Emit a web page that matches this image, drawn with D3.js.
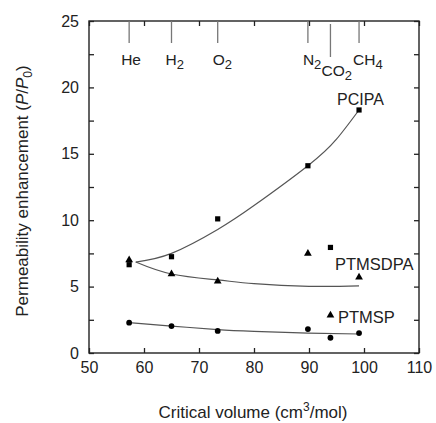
<!DOCTYPE html>
<html><head><meta charset="utf-8">
<script src="https://cdn.jsdelivr.net/npm/d3@7"></script>
<style>body{margin:0;background:#fff}svg{display:block}text{font-family:"Liberation Sans",Arial,sans-serif;fill:#222}</style>
</head><body><svg id="c" width="436" height="423"></svg>
<script>
// ---- data ----
const gases = ["He","H2","O2","N2","CO2","CH4"];
const criticalVolume = [57.3, 65.0, 73.4, 89.8, 93.9, 99.1];
const pcipa   = [6.65, 7.25, 10.1, 14.1, 7.95, 18.3];
const ptmsdpa = [7.0, 5.95, 5.4, 7.5, 2.85, 5.7];
const ptmsp   = [2.28, 2.03, 1.66, 1.8, 1.15, 1.5];
// fitted trend lines
const fitPcipaX   = [58.5, 65, 73.4, 80, 89.8, 95, 99.1];
const fitPcipaY   = [6.85, 7.5, 9.3, 11.1, 14.1, 16.1, 18.3];
const fitPtmsdpaX = [58.5, 65, 73.4, 80, 90, 99.1];
const fitPtmsdpaY = [6.85, 5.95, 5.5, 5.22, 5.02, 5.05];
const fitPtmspX   = [57.3, 65, 73.4, 80, 89.8, 99.1];
const fitPtmspY   = [2.28, 2.03, 1.76, 1.63, 1.5, 1.43];
const xTicks = [50, 60, 70, 80, 90, 100, 110];
const yTicks = [0, 5, 10, 15, 20, 25];
const yMinorTicks = [0, 2.5, 5, 7.5, 10, 12.5, 15, 17.5, 20, 22.5, 25];

const svg = d3.select("#c");
const L = 89, R = 419, T = 21, B = 353;
const x = d3.scaleLinear().domain([50, 110]).range([L, R]);
const y = d3.scaleLinear().domain([0, 25]).range([B, T]);
const ink = "#222";
const FONT = '"Liberation Sans",Arial,sans-serif';

// frame
svg.append("rect").attr("x", L).attr("y", T).attr("width", R - L).attr("height", B - T)
  .attr("fill", "none").attr("stroke", ink).attr("stroke-width", 1.4);

// axes (inward ticks)
const gB = svg.append("g").attr("transform", `translate(0,${B})`)
  .call(d3.axisBottom(x).tickValues(xTicks).tickSize(-5).tickPadding(9).tickFormat(d3.format("d")));
const gT = svg.append("g").attr("transform", `translate(0,${T})`)
  .call(d3.axisTop(x).tickValues(xTicks).tickSize(-5).tickFormat(""));
const gL = svg.append("g").attr("transform", `translate(${L},0)`)
  .call(d3.axisLeft(y).tickValues(yMinorTicks).tickSize(-5).tickPadding(10)
    .tickFormat(d => yTicks.includes(d) ? d : ""));
const gR = svg.append("g").attr("transform", `translate(${R},0)`)
  .call(d3.axisRight(y).tickValues(yMinorTicks).tickSize(-5).tickFormat(""));
[gB, gT, gL, gR].forEach(g => {
  g.select(".domain").remove();
  g.selectAll(".tick line").attr("stroke", ink).attr("stroke-width", 1.3);
  g.selectAll(".tick text").attr("font-size", 16).attr("fill", ink).style("font-family", FONT);
});

// gas markers at top
const gasLineEnd = [43, 43, 43, 43, 57, 43];
const gasLineStart = [21, 21, 21, 21, 24, 21];
const gasLabelDx = [-8, -6, -5, -5, -9, -6];
const gasLabelY = [65, 65, 65, 65, 76, 65];
criticalVolume.forEach((v, i) => {
  svg.append("line").attr("x1", x(v)).attr("x2", x(v))
    .attr("y1", gasLineStart[i]).attr("y2", gasLineEnd[i])
    .attr("stroke", "#777").attr("stroke-width", 1.3);
  const t = svg.append("text").attr("x", x(v) + gasLabelDx[i]).attr("y", gasLabelY[i])
    .attr("font-size", 15.5).attr("fill", ink);
  const m = gases[i].match(/^([A-Za-z]+?)(\d*)$/);
  t.append("tspan").text(m[1]);
  if (m[2]) t.append("tspan").attr("dy", 4).attr("font-size", 13).text(m[2]);
});

// fit curves
const line = d3.line().x(d => x(d[0])).y(d => y(d[1])).curve(d3.curveNatural);
[[fitPcipaX, fitPcipaY], [fitPtmsdpaX, fitPtmsdpaY], [fitPtmspX, fitPtmspY]].forEach(([xs, ys]) => {
  svg.append("path").attr("d", line(xs.map((v, i) => [v, ys[i]])))
    .attr("fill", "none").attr("stroke", "#555").attr("stroke-width", 1.2);
});

// markers
criticalVolume.forEach((v, i) => {
  svg.append("rect").attr("x", x(v) - 2.6).attr("y", y(pcipa[i]) - 2.6)
    .attr("width", 5.2).attr("height", 5.2).attr("fill", "#000");
  svg.append("path").attr("transform", `translate(${x(v)},${y(ptmsdpa[i])})`)
    .attr("d", d3.symbol().type(d3.symbolTriangle).size(26)()).attr("fill", "#000");
  svg.append("circle").attr("cx", x(v)).attr("cy", y(ptmsp[i])).attr("r", 2.9).attr("fill", "#000");
});

// series labels
svg.append("text").attr("x", 337).attr("y", 105).attr("font-size", 16).text("PCIPA");
svg.append("text").attr("x", 335).attr("y", 270).attr("font-size", 16.5).text("PTMSDPA");
svg.append("text").attr("x", 338).attr("y", 323).attr("font-size", 16.5).text("PTMSP");

// axis titles
const xt = svg.append("text").attr("x", (L + R) / 2 - 1).attr("y", 418)
  .attr("text-anchor", "middle").attr("font-size", 17);
xt.append("tspan").text("Critical volume (cm");
xt.append("tspan").attr("dy", -7).attr("font-size", 12).text("3");
xt.append("tspan").attr("dy", 7).text("/mol)");

const yt = svg.append("text").attr("transform", `translate(28,${(T + B) / 2 + 4}) rotate(-90)`)
  .attr("text-anchor", "middle").attr("font-size", 17);
yt.append("tspan").text("Permeability enhancement (");
yt.append("tspan").attr("font-style", "italic").text("P");
yt.append("tspan").text("/");
yt.append("tspan").attr("font-style", "italic").text("P");
yt.append("tspan").attr("dy", 4).attr("font-size", 12).text("0");
yt.append("tspan").attr("dy", -4).text(")");
</script></body></html>
